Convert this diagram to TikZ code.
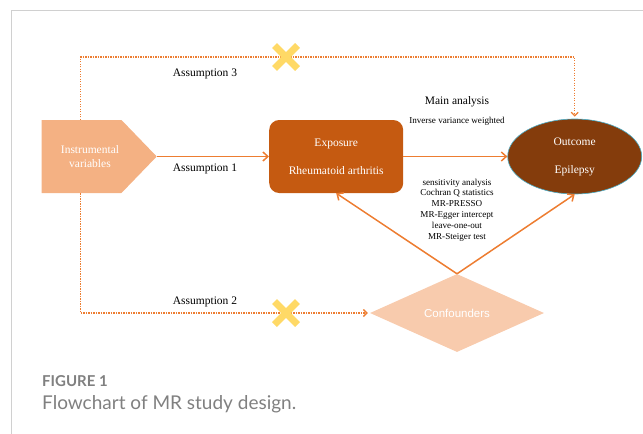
\documentclass[tikz,border=0pt]{standalone}
\usepackage{fontspec}
\setmainfont{Liberation Serif}
\newfontfamily\sansfont{Liberation Sans}
\newfontfamily\capfont{Lato}
\usepackage{xcolor}
\usetikzlibrary{arrows.meta,positioning,shapes.geometric,shapes.symbols,shapes.misc}
\definecolor{ivorange}{HTML}{F4B183}
\definecolor{expbrown}{HTML}{C55A11}
\definecolor{outbrown}{HTML}{843C0C}
\definecolor{outteal}{HTML}{4BACC6}
\definecolor{confpeach}{HTML}{F8CBAD}
\definecolor{arrorange}{HTML}{ED7D31}
\definecolor{crossyellow}{HTML}{FFD966}
\definecolor{capgray}{HTML}{808080}
\definecolor{framegray}{HTML}{D0D0D0}

\begin{document}
\begin{tikzpicture}[x=1pt,y=-1pt,every node/.append style={align=center},
  txt/.style={font=\fontsize{11.5}{13}\selectfont},
  small/.style={font=\fontsize{9.1}{10.8}\selectfont},
  ivbox/.style={signal, signal to=east, fill=ivorange, minimum width=115pt, minimum height=73pt, signal pointer angle=92, inner sep=0pt},
  expbox/.style={rectangle, rounded corners=10pt, fill=expbrown, text=white, minimum width=134pt, minimum height=73pt, txt},
  outnode/.style={ellipse, draw=outteal, line width=0.6pt, fill=outbrown, text=white, minimum width=134pt, minimum height=75pt, inner sep=0pt, txt},
  confnode/.style={diamond, fill=confpeach, text=white, minimum width=174pt, minimum height=78pt, inner sep=0pt, font=\sansfont\fontsize{11.5}{13}\selectfont},
  flow/.style={-{Straight Barb[length=5pt,width=9pt]}, draw=arrorange, line width=1.5pt},
  dotflow/.style={-{Straight Barb[length=3.5pt,width=7pt]}, draw=arrorange, line width=1.3pt, dash pattern=on 1.3pt off 1.2pt},
  nope/.style={cross out, draw=crossyellow, line width=7pt, minimum size=16pt, inner sep=0pt}]
    \useasboundingbox (0,0) rectangle (643,434);
    \draw[framegray, line width=1pt] (11,434) -- (11,10) -- (643,10);
    % boxes
    \node [ivbox, anchor=east] (IV) at (157,156.5) {};
    \node [txt, text=white] (ivlabel) at (90,157) {Instrumental\\[1pt]variables};
    \node [expbox, right=112pt of IV.east] (exp) {Exposure\\[15pt]Rheumatoid arthritis};
    \node [outnode, right=104pt of exp] (out) {Outcome\\[15pt]Epilepsy};
    \node [confnode] (conf) at (457,313) {Confounders};
    % labels
    \node [txt] (a3) at (205,74) {Assumption 3};
    \node [txt] (a1) at (205,169) {Assumption 1};
    \node [txt] (a2) at (205,302) {Assumption 2};
    \node [txt] (main) at (457,102) {Main analysis};
    \node [small] (ivw) at (457,121) {Inverse variance weighted};
    \node [small] (sens) at (457,210) {sensitivity analysis\\Cochran Q statistics\\MR-PRESSO\\MR-Egger intercept\\leave-one-out\\MR-Steiger test};
    % connectors
    \coordinate (ivtop) at ([xshift=39pt]IV.west |- IV.north);
    \coordinate (ivbot) at ([xshift=39pt]IV.west |- IV.south);
    \coordinate (m3) at (286,57);
    \coordinate (m2) at (286,313);
    \draw[dotflow, shorten >=2pt] (ivtop) |- (m3) -| (out.north);
    \draw[dotflow, shorten >=2pt] (ivbot) |- (conf.west);
    \draw[flow] (IV.east) -- (exp.west);
    \draw[flow] (exp.east) -- (out.west);
    \draw[flow] (conf.north) -- (exp.south);
    \draw[flow] (conf.north) -- (out.south);
    \node [nope] (x3) at (m3) {};
    \node [nope] (x2) at (m2) {};
    % caption
    \node [anchor=west, text=capgray, font=\capfont\bfseries\fontsize{15}{18}\selectfont, inner sep=0pt] (fig) at (42,381) {FIGURE 1};
    \node [anchor=west, text=capgray, font=\capfont\fontsize{19}{22}\selectfont, inner sep=0pt] (cap) at (42,404) {Flowchart of MR study design.};
\end{tikzpicture}
\end{document}
